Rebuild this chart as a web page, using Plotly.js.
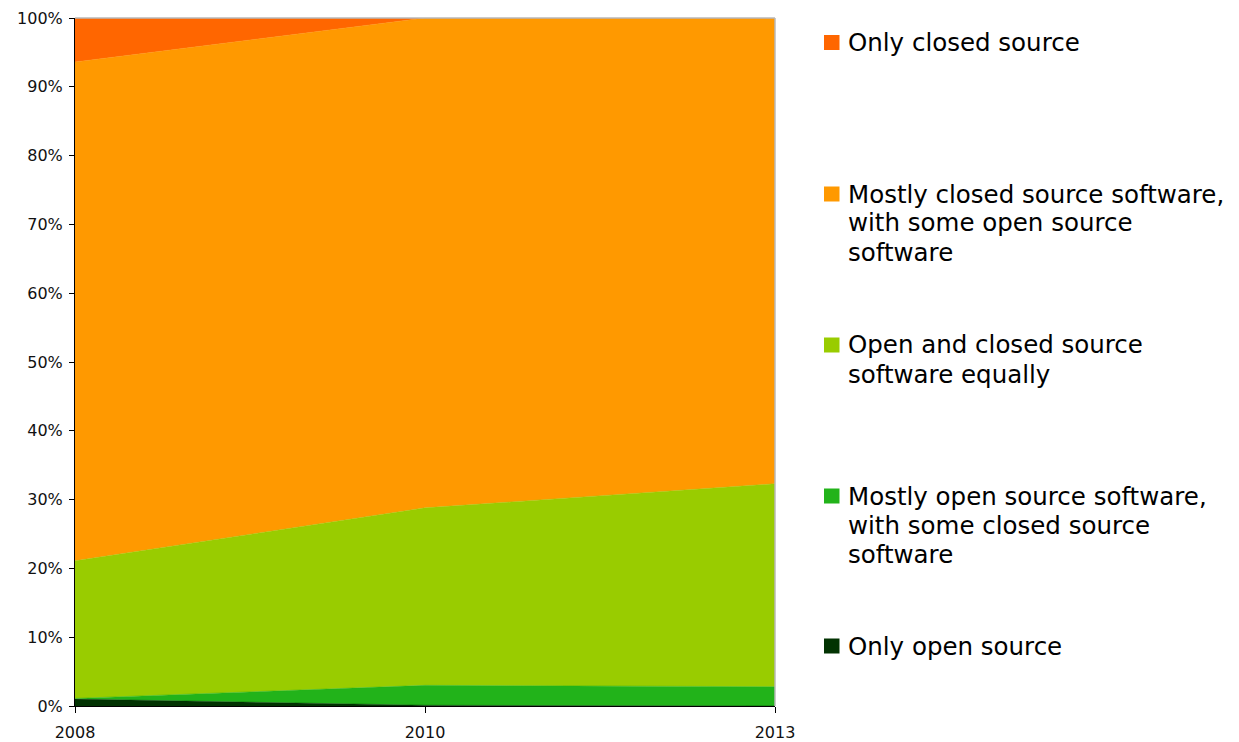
<!DOCTYPE html>
<html>
<head>
<meta charset="utf-8">
<script src="https://cdn.plot.ly/plotly-3.0.1.min.js"></script>
<style>
  html, body { margin: 0; padding: 0; background: #ffffff; }
  #chart { width: 1239px; height: 742px; }
</style>
</head>
<body>
<div id="chart"></div>
<script>
// Data (percent of respondents)
const years = ['2008', '2010', '2013'];
const onlyOpen      = [1.0, 0.1, 0.0];
const mostlyOpen    = [0.1, 2.9, 2.8];
const equally       = [20.0, 25.8, 29.5];
const mostlyClosed  = [72.5, 71.2, 67.7];
const onlyClosed    = [6.4, 0.0, 0.0];

const seriesNames = [
  'Only open source',
  'Mostly open source software,\nwith some closed source\nsoftware',
  'Open and closed source\nsoftware equally',
  'Mostly closed source software,\nwith some open source\nsoftware',
  'Only closed source'
];
const seriesValues = [onlyOpen, mostlyOpen, equally, mostlyClosed, onlyClosed];
const seriesColors = ['#023302', '#22B31A', '#99CC00', '#FF9900', '#FF6600'];
const yTickVals = [0, 10, 20, 30, 40, 50, 60, 70, 80, 90, 100];
const yTickText = ['0%', '10%', '20%', '30%', '40%', '50%', '60%', '70%', '80%', '90%', '100%'];

const traces = seriesValues.map((vals, i) => ({
  type: 'scatter',
  mode: 'lines',
  x: years,
  y: vals,
  name: seriesNames[i].replace(/\n/g, ' '),
  stackgroup: 'one',
  fillcolor: seriesColors[i],
  line: { color: seriesColors[i], width: 0.5 },
  hoverinfo: 'x+y+name',
  showlegend: false
}));

// Custom legend (top item = last series), matching the reference layout
const FONT = 'DejaVu Sans, Verdana, sans-serif';
const plotTop = 18, plotBottom = 706;
const annotations = [];
const shapes = [];
const legendFirstLineY = [42.5, 194, 345, 496, 646]; // pixel centres, top to bottom
const lineGap = 29;
const legendOrder = [4, 3, 2, 1, 0];
function pyToPaper(py) { return (plotBottom - py) / (plotBottom - plotTop); }
function pxToPaper(px) { return (px - 75) / (775 - 75); }

legendOrder.forEach((si, k) => {
  const lines = seriesNames[si].split('\n');
  const y0 = legendFirstLineY[k];
  lines.forEach((ln, j) => {
    annotations.push({
      xref: 'paper', yref: 'paper',
      x: pxToPaper(846), y: pyToPaper(y0 + j * lineGap),
      xanchor: 'left', yanchor: 'middle',
      text: ln, showarrow: false,
      font: { family: FONT, size: 24.5, color: '#000000' }
    });
  });
  shapes.push({
    type: 'rect', xref: 'paper', yref: 'paper',
    x0: pxToPaper(824), x1: pxToPaper(839.5),
    y0: pyToPaper(y0 - 7.5), y1: pyToPaper(y0 + 7.5),
    fillcolor: seriesColors[si], line: { width: 0 }
  });
});

// grey top and right frame lines
shapes.push({ type: 'line', xref: 'paper', yref: 'paper', x0: 0, x1: 1, y0: 1, y1: 1,
  line: { color: '#b8b8b8', width: 1.5 } });
shapes.push({ type: 'line', xref: 'paper', yref: 'paper', x0: 1, x1: 1, y0: 0, y1: 1,
  line: { color: '#b8b8b8', width: 1.5 } });

const layout = {
  width: 1239, height: 742,
  margin: { l: 75, r: 464, t: 18, b: 36, pad: 0 },
  paper_bgcolor: '#ffffff',
  plot_bgcolor: '#ffffff',
  font: { family: FONT, color: '#111111' },
  showlegend: false,
  xaxis: {
    type: 'category',
    range: [0, 2],
    showgrid: false, zeroline: false,
    showline: true, linecolor: '#000000', linewidth: 1,
    ticks: 'outside', ticklen: 6, tickcolor: '#000000', tickwidth: 1,
    ticklabelstandoff: 6,
    tickfont: { family: FONT, size: 16, color: '#111111' },
    fixedrange: true
  },
  yaxis: {
    range: [0, 100],
    tickvals: yTickVals, ticktext: yTickText,
    showgrid: false, zeroline: false,
    showline: true, linecolor: '#000000', linewidth: 1,
    ticks: 'outside', ticklen: 5, tickcolor: '#000000', tickwidth: 1,
    ticklabelstandoff: 3,
    tickfont: { family: FONT, size: 16, color: '#111111' },
    fixedrange: true
  },
  annotations: annotations,
  shapes: shapes
};

Plotly.newPlot('chart', traces, layout, { displayModeBar: false, staticPlot: true });
</script>
</body>
</html>
